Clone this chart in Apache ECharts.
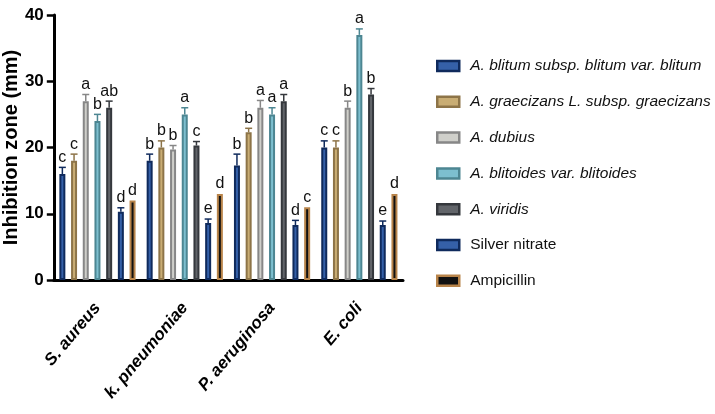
<!DOCTYPE html>
<html>
<head>
<meta charset="utf-8">
<script src="https://cdn.jsdelivr.net/npm/echarts@6/dist/echarts.min.js"></script>
<style>html,body{margin:0;padding:0;background:#fff}#c{width:715px;height:414px}</style>
</head>
<body>
<div id="c"></div>
<script>
const categories = ['S. aureus', 'k. pneumoniae', 'P. aeruginosa', 'E. coli'];
const seriesNames = ['A. blitum subsp. blitum var. blitum', 'A. graecizans L. subsp. graecizans', 'A. dubius', 'A. blitoides var. blitoides', 'A. viridis', 'Silver nitrate', 'Ampicillin'];
const italicNames = [true, true, true, true, true, false, false];
const blitum = [16, 18, 17.3, 20];
const graecizans = [18, 20, 22.3, 20];
const dubius = [27, 19.7, 26, 26];
const blitoides = [24, 25, 25, 37];
const viridis = [26, 20.3, 27, 28];
const silverNitrate = [10.3, 8.6, 8.3, 8.3];
const ampicillin = [12, 13, 11, 13];
const errBlitum = [1, 1, 1.7, 1];
const errGraecizans = [1, 1, 0.6, 1];
const errDubius = [1, 0.6, 1.1, 1];
const errBlitoides = [1, 1, 1, 0.9];
const errViridis = [1, 0.6, 1, 0.9];
const errSilver = [0.6, 0.6, 0.7, 0.6];
const errAmpicillin = [0, 0, 0, 0];
const lettersBlitum = ['c', 'b', 'b', 'c'];
const lettersGraecizans = ['c', 'b', 'b', 'c'];
const lettersDubius = ['a', 'b', 'a', 'b'];
const lettersBlitoides = ['b', 'a', 'a', 'a'];
const lettersViridis = ['ab', 'c', 'a', 'b'];
const lettersSilver = ['d', 'e', 'd', 'e'];
const lettersAmpicillin = ['d', 'd', 'c', 'd'];
const yTicks = {min: 0, max: 40, interval: 10};

const values = [blitum, graecizans, dubius, blitoides, viridis, silverNitrate, ampicillin];
const errors = [errBlitum, errGraecizans, errDubius, errBlitoides, errViridis, errSilver, errAmpicillin];
const letters = [lettersBlitum, lettersGraecizans, lettersDubius, lettersBlitoides, lettersViridis, lettersSilver, lettersAmpicillin];

const fills = ['#3560a8', '#c9ad74', '#cfcfca', '#7dbfcf', '#62656a', '#3560a8', '#111111'];
const borders = ['#0f2a5c', '#8d7448', '#878787', '#4d8692', '#35383d', '#0f2a5c', '#b8844a'];
const FONT = '"Liberation Sans", Arial, sans-serif';

const BAR_W = 6;
const GAP = 0.95;
const STEP = BAR_W * (1 + GAP);

const barSeries = seriesNames.map((n, i) => ({
  name: n,
  type: 'bar',
  data: values[i],
  barWidth: BAR_W,
  barGap: (GAP * 100) + '%',
  itemStyle: {color: fills[i], borderColor: borders[i], borderWidth: 2},
  emphasis: {disabled: true}
}));

const errData = [];
values.forEach((arr, s) => arr.forEach((v, c) => errData.push([c, s, v, errors[s][c], letters[s][c]])));

const errSeries = {
  type: 'custom',
  name: 'err',
  data: errData,
  encode: {x: 0, y: 2},
  z: 10,
  silent: true,
  renderItem: function (params, api) {
    const c = api.value(0), s = api.value(1), v = api.value(2), e = api.value(3);
    const letter = errData[params.dataIndex][4];
    const base = api.coord([c, v]);
    const x = base[0] + (s - 3) * STEP;
    const top = api.coord([c, v + e])[1];
    const children = [];
    const col = borders[s];
    if (e > 0) {
      children.push({type: 'line', shape: {x1: x, y1: base[1], x2: x, y2: top}, style: {stroke: col, lineWidth: 1.5}});
      children.push({type: 'line', shape: {x1: x - 3.5, y1: top, x2: x + 3.5, y2: top}, style: {stroke: col, lineWidth: 1.5}});
    }
    children.push({type: 'text', x: x, y: top - 2, style: {text: letter, fill: '#111', font: '16px ' + FONT, textAlign: 'center', textVerticalAlign: 'bottom'}});
    return {type: 'group', children: children};
  }
};

const chart = echarts.init(document.getElementById('c'), null, {renderer: 'canvas'});
chart.setOption({
  animation: false,
  grid: {left: 52, top: 15, width: 351, height: 265},
  legend: {
    orient: 'vertical',
    left: 431,
    top: 53,
    itemWidth: 22,
    itemHeight: 10,
    itemGap: 19.8,
    data: seriesNames,
    icon: 'rect',
    itemStyle: {borderWidth: 2.5},
    formatter: function (name) {
      const i = seriesNames.indexOf(name);
      return italicNames[i] ? '{i|' + name + '}' : '{n|' + name + '}';
    },
    textStyle: {
      fontFamily: FONT,
      fontSize: 15.5,
      color: '#111',
      rich: {
        i: {fontStyle: 'italic', fontSize: 15.5, color: '#111', padding: [0, 0, 0, 6], fontFamily: FONT},
        n: {fontSize: 15.5, color: '#111', padding: [0, 0, 0, 6], fontFamily: FONT}
      }
    }
  },
  xAxis: {
    type: 'category',
    data: categories,
    axisLine: {lineStyle: {color: '#000', width: 3}},
    axisTick: {alignWithLabel: true, length: 10, lineStyle: {width: 2.5, color: '#000'}},
    axisLabel: {rotate: 50, fontSize: 17, fontWeight: 'bold', fontStyle: 'italic', color: '#000', margin: 25, fontFamily: FONT, interval: 0}
  },
  yAxis: {
    type: 'value',
    min: yTicks.min, max: yTicks.max, interval: yTicks.interval,
    name: 'Inhibition zone (mm)',
    nameLocation: 'middle',
    nameGap: 30,
    nameTextStyle: {fontSize: 20, fontWeight: 'bold', color: '#000', fontFamily: FONT},
    axisLine: {show: true, lineStyle: {color: '#000', width: 3}},
    axisTick: {show: true, length: 7, lineStyle: {width: 2.5, color: '#000'}},
    splitLine: {show: false},
    axisLabel: {fontSize: 17, fontWeight: 'bold', color: '#000', margin: 10, fontFamily: FONT}
  },
  series: barSeries.concat([errSeries])
});
</script>
</body>
</html>
